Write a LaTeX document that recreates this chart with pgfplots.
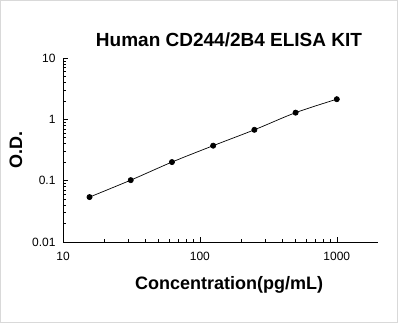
\documentclass[border=0pt]{standalone}
\usepackage{fontspec}
\setmainfont{Liberation Sans}
\usepackage{pgfplots}
\pgfplotsset{compat=1.18}
\begin{document}
\begin{tikzpicture}
\draw[gray!30, line width=1bp, fill=white] (-62.5bp,-80.5bp) rectangle (334.5bp,241.5bp);
\begin{axis}[
  at={(0,0)}, anchor=south west,
  scale only axis, width=315bp, height=184bp,
  xmode=log, ymode=log,
  xmin=10, xmax=2000, ymin=0.01, ymax=10,
  axis x line=bottom, axis y line=left,
  axis line style={-, line width=0.8bp},
  tick align=inside,
  major tick length=5bp, minor tick length=3bp,
  tick style={black, line width=0.6bp},
  xtick={10,100,1000}, xticklabels={10,100,1000},
  ytick={0.01,0.1,1,10}, yticklabels={0.01,0.1,1,10},
  tick label style={font=\fontsize{12bp}{13bp}\selectfont},
  xticklabel style={yshift=-7bp},
  yticklabel style={xshift=-4bp},
  clip=false,
]
\addplot[black, line width=0.7bp, smooth, mark=*, mark size=2.6bp, mark options={fill=black}] coordinates {
(15.625,0.054) (31.25,0.102) (62.5,0.201) (125,0.372) (250,0.675) (500,1.285) (1000,2.13)};
\end{axis}
\node[font=\fontsize{19bp}{22bp}\selectfont\bfseries] at (166bp,202bp) {Human CD244/2B4 ELISA KIT};
\node[font=\fontsize{18bp}{21bp}\selectfont\bfseries] at (166bp,-43bp) {Concentration(pg/mL)};
\node[font=\fontsize{18bp}{21bp}\selectfont\bfseries, rotate=90] at (-47bp,92bp) {O.D.};
\end{tikzpicture}
\end{document}
